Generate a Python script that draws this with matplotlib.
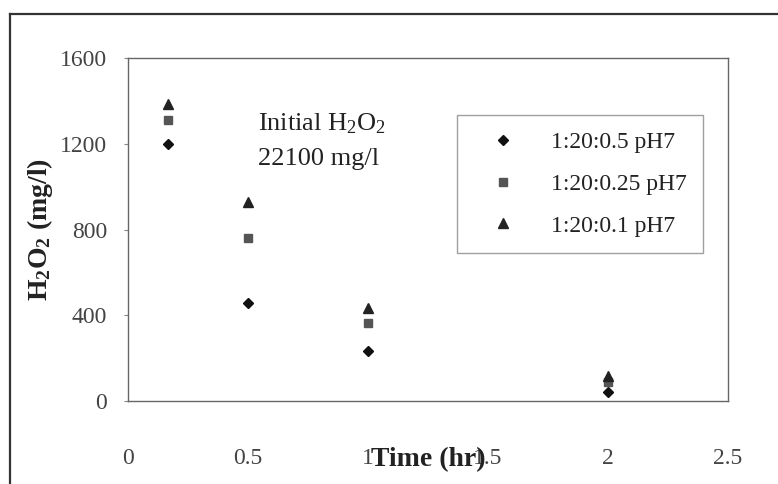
import matplotlib
matplotlib.use("Agg")
import matplotlib.pyplot as plt
from matplotlib.lines import Line2D

plt.rcParams['font.family'] = ['Liberation Serif', 'DejaVu Serif']
plt.rcParams['mathtext.fontset'] = 'custom'
plt.rcParams['mathtext.rm'] = 'Liberation Serif'
plt.rcParams['mathtext.it'] = 'Liberation Serif:italic'
plt.rcParams['mathtext.bf'] = 'Liberation Serif:bold'

time_hr = [0.167, 0.5, 1.0, 2.0]
s_05 = [1200, 455, 235, 42]
s_025 = [1310, 762, 362, 88]
s_01 = [1385, 930, 434, 118]
series_labels = ['1:20:0.5 pH7', '1:20:0.25 pH7', '1:20:0.1 pH7']
x_ticks = [0, 0.5, 1, 1.5, 2, 2.5]
x_tick_labels = ['0', '0.5', '1', '1.5', '2', '2.5']
y_ticks = [0, 400, 800, 1200, 1600]

fig = plt.figure(figsize=(7.78, 4.84), dpi=100)
ax = fig.add_axes([0.1645, 0.1715, 0.7712, 0.7085])

ax.plot(time_hr, s_05, linestyle='none', marker='D', ms=5.5, color='#111111', label=series_labels[0])
ax.plot(time_hr, s_025, linestyle='none', marker='s', ms=5.5, color='#555555', label=series_labels[1])
ax.plot(time_hr, s_01, linestyle='none', marker='^', ms=6.5, color='#222222', label=series_labels[2])

ax.set_xlim(0, 2.5)
ax.set_ylim(0, 1600)
ax.set_xticks(x_ticks)
ax.set_xticklabels(x_tick_labels)
ax.set_yticks(y_ticks)
ax.tick_params(axis='x', length=0, pad=34, labelsize=17, labelcolor='#444444')
ax.tick_params(axis='y', length=3, width=0.8, color='#888888', pad=12, labelsize=17, labelcolor='#444444')
for sp in ax.spines.values():
    sp.set_color('#666666')
    sp.set_linewidth(1.0)

ax.set_xlabel('Time (hr)', fontsize=20, fontweight='bold', color='#222222')
ax.xaxis.set_label_coords(0.5, -0.172)
ax.xaxis.label.set_va('center')
ax.set_ylabel(r'H$\mathbf{_2}$O$\mathbf{_2}$ (mg/l)', fontsize=20, fontweight='bold', color='#222222')
ax.yaxis.set_label_coords(-0.147, 0.5)
ax.yaxis.label.set_va('center')

ax.text(0.217, 0.81, r'Initial H$_2$O$_2$', transform=ax.transAxes, fontsize=19,
        ha='left', va='center', color='#222222')
ax.text(0.217, 0.705, '22100 mg/l', transform=ax.transAxes, fontsize=19,
        ha='left', va='center', color='#222222')

leg = ax.legend(loc='upper left', bbox_to_anchor=(0.548, 0.834), fontsize=17,
                frameon=True, fancybox=False, borderaxespad=0, borderpad=0.7,
                handlelength=2.5, handletextpad=0.8, labelspacing=0.86)
leg.get_frame().set_edgecolor('#888888')
leg.get_frame().set_linewidth(1.0)
for t in leg.get_texts():
    t.set_color('#222222')

# outer chart frame (top and left edges visible)
fig.add_artist(Line2D([0.0129, 1.0], [0.971, 0.971], transform=fig.transFigure,
                      color='#333333', linewidth=1.6))
fig.add_artist(Line2D([0.0129, 0.0129], [0.0, 0.971], transform=fig.transFigure,
                      color='#333333', linewidth=1.6))

fig.savefig('out.png', dpi=100)
